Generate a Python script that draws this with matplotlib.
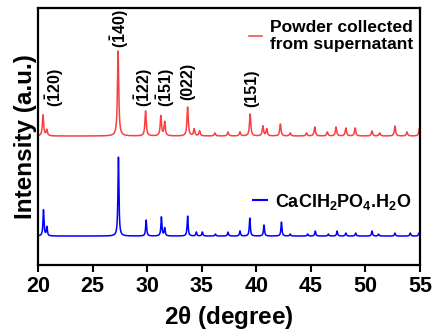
import numpy as np
import matplotlib
matplotlib.use('Agg')
import matplotlib.pyplot as plt
from matplotlib.lines import Line2D

plt.rcParams['font.family'] = ['Liberation Sans', 'DejaVu Sans']
plt.rcParams['mathtext.fontset'] = 'custom'
plt.rcParams['mathtext.rm'] = 'Liberation Sans:bold'
plt.rcParams['mathtext.it'] = 'Liberation Sans:bold'
plt.rcParams['mathtext.bf'] = 'Liberation Sans:bold'

# peak lists (2theta, height)
red_pos = [20.45, 20.8, 27.33, 29.85, 31.25, 31.6, 33.7, 34.3, 34.8, 36.2, 37.4, 38.5,
           39.43, 40.6, 40.95, 42.2, 43.1, 44.6, 45.35, 46.5, 47.3, 48.2, 49.05, 50.6,
           51.3, 52.7, 53.8, 54.95]
red_h = [21, 6, 85, 25, 20, 14, 29, 7, 5, 3, 4, 4,
         22, 10, 7, 12, 3, 3, 9, 4, 9, 8, 8, 5,
         3, 10, 4, 8]
red_base = 129

blue_pos = [20.49, 20.8, 27.36, 29.9, 31.3, 31.6, 33.7, 34.5, 35.05, 36.25, 37.4, 38.5,
            39.4, 40.7, 42.3, 43.1, 44.7, 45.4, 46.6, 47.4, 48.2, 49.1, 50.6, 51.2,
            52.7, 54.1, 54.9]
blue_h = [26, 9, 79, 16, 19, 8, 20, 4, 4, 2, 4, 5,
          18, 11, 14, 2, 2, 5, 2, 5, 3, 3, 5, 2,
          3, 3, 3]
blue_base = 29

labels = [r'$(\bar{1}20)$', r'$(\bar{1}40)$', r'$(\bar{1}22)$', r'$(\bar{1}51)$', '(022)', '(151)']
label_x = [21.56, 27.5, 29.7, 31.7, 33.7, 39.6]
label_y = [177, 236, 177, 177, 184, 177]


def pattern(x, pos, h, base, w):
    y = np.full_like(x, float(base))
    for p, a in zip(pos, h):
        y += a / (1 + ((x - p) / (w / 2)) ** 2)
    return y


two_theta = np.linspace(20, 55, 3500)
red = pattern(two_theta, red_pos, red_h, red_base, 0.14)
blue = pattern(two_theta, blue_pos, blue_h, blue_base, 0.11)

fig = plt.figure(figsize=(4.38, 3.33), dpi=100)
ax = fig.add_axes([0.087, 0.204, 0.872, 0.772])

ax.plot(two_theta, red, color='#f84040', lw=1.1)
ax.plot(two_theta, blue, color='#0000ff', lw=1.1)

for t, x, y in zip(labels, label_x, label_y):
    ax.text(x, y, t, rotation=90, ha='center', va='center', fontsize=11.5,
            fontweight='bold')

ax.set_xlim(20, 55)
ax.set_ylim(0, 257)
ax.set_xticks([20, 25, 30, 35, 40, 45, 50, 55])
ax.set_yticks([])
ax.tick_params(axis='x', direction='out', length=5, width=1.5, labelsize=15.5, pad=3)
for lab in ax.get_xticklabels():
    lab.set_fontweight('bold')
for s in ax.spines.values():
    s.set_linewidth(1.6)

ax.set_xlabel(r'2$\theta$ (degree)', fontsize=17.5, fontweight='bold', labelpad=5)
ax.set_ylabel('Intensity (a.u.)', fontsize=17.5, fontweight='bold', labelpad=1)

h1 = Line2D([], [], color='#f84040', lw=1.1)
h2 = Line2D([], [], color='#0000ff', lw=1.5)
leg1 = ax.legend([h1], ['Powder collected\nfrom supernatant'], loc='upper right',
                 bbox_to_anchor=(1.0, 0.98), frameon=False,
                 prop={'size': 12.5, 'weight': 'bold'},
                 handlelength=0.75, handletextpad=0.45, borderaxespad=0.0)
ax.add_artist(leg1)
ax.legend([h2], [r'CaClH$_2$PO$_4$.H$_2$O'], loc='center right',
          bbox_to_anchor=(1.0, 0.247), frameon=False,
          prop={'size': 13, 'weight': 'bold'},
          handlelength=0.75, handletextpad=0.45, borderaxespad=0.1)

fig.savefig('out.png', dpi=100)
